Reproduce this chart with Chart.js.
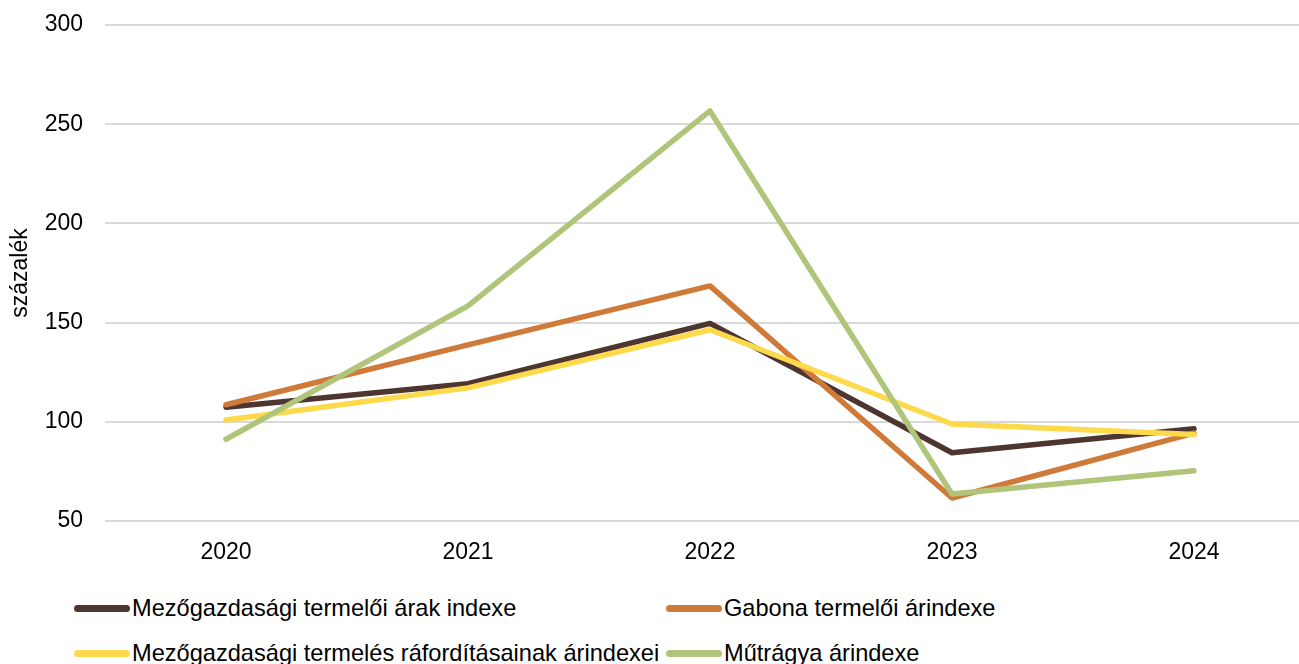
<!DOCTYPE html>
<html>
<head>
<meta charset="utf-8">
<script src="https://cdn.jsdelivr.net/npm/chart.js@4/dist/chart.umd.min.js"></script>
<style>
  body { margin: 0; background: #fff; overflow: hidden; width: 1299px; height: 664px; position: relative; }
  #wrap { position: absolute; left: 0; top: 0; width: 1315px; height: 570px; }
  .legend { position: absolute; left: 0; top: 0; font-family: "Liberation Sans", Arial, sans-serif; font-size: 23.6px; color: #000; white-space: nowrap; }
  .item { position: absolute; display: flex; align-items: center; height: 30px; }
  .swatch { width: 56px; height: 7px; border-radius: 3.5px; margin-right: 2px; }
</style>
</head>
<body>
<div id="wrap"><canvas id="chart"></canvas></div>
<div class="legend" id="legend"></div>
<script>
const years = ["2020", "2021", "2022", "2023", "2024"];

const producerPrices = [107.3, 119.2, 149.6, 84.4, 96.5];
const grainPrices = [108.6, 138.8, 168.5, 61.6, 94.3];
const inputPrices = [100.9, 117.1, 146.4, 98.9, 93.6];
const fertiliserPrices = [91.2, 158.4, 256.7, 63.6, 75.3];

const seriesNames = [
    "Mezőgazdasági termelői árak indexe",
    "Gabona termelői árindexe",
    "Mezőgazdasági termelés ráfordításainak árindexei",
    "Műtrágya árindexe"
];
const seriesColors = ["#4d3630", "#cf7a38", "#fdda4c", "#b0c57a"];

const yTicks = [50, 100, 150, 200, 250, 300];

const font = "'Liberation Sans', Arial, sans-serif";

const allValues = [producerPrices, grainPrices, inputPrices, fertiliserPrices];

// Excel draws the later series on top, Chart.js draws lower "order" on top
const datasets = allValues.map((vals, i) => ({
    label: seriesNames[i],
    data: vals,
    borderColor: seriesColors[i],
    backgroundColor: seriesColors[i],
    borderWidth: 5.5,
    pointRadius: 0,
    tension: 0,
    borderCapStyle: "round",
    borderJoinStyle: "round",
    order: allValues.length - i
}));

new Chart(document.getElementById("chart"), {
    type: "line",
    data: { labels: years, datasets: datasets },
    options: {
        responsive: true,
        maintainAspectRatio: false,
        animation: false,
        layout: { padding: { top: 25, right: 0, bottom: 0, left: 0 } },
        plugins: {
            legend: { display: false },
            tooltip: { enabled: false }
        },
        scales: {
            x: {
                offset: true,
                grid: { display: false },
                border: { display: false },
                ticks: { color: "#000", font: { family: font, size: 23 }, padding: 10 },
                afterFit: axis => { axis.height = 49; }
            },
            y: {
                min: yTicks[0],
                max: yTicks[yTicks.length - 1],
                afterBuildTicks: axis => { axis.ticks = yTicks.map(v => ({ value: v })); },
                grid: { color: "#d9d9d9", lineWidth: 2, drawTicks: false },
                border: { display: false },
                ticks: { color: "#000", font: { family: font, size: 23 }, padding: 22 },
                title: {
                    display: true,
                    text: "százalék",
                    color: "#000",
                    font: { family: font, size: 23 },
                    padding: { top: 7, bottom: 6 }
                },
                afterFit: axis => {
                    axis.width = 105;
                    axis.paddingTop = 0;
                    axis.paddingBottom = 0;
                }
            }
        }
    }
});

// legend laid out in two columns like the original
const legend = document.getElementById("legend");
const legendPos = [[74, 593], [666, 593], [74, 638], [666, 638]];
seriesNames.forEach((name, i) => {
    const item = document.createElement("div");
    item.className = "item";
    item.style.left = legendPos[i][0] + "px";
    item.style.top = legendPos[i][1] + "px";
    item.innerHTML = '<span class="swatch" style="background:' + seriesColors[i] + '"></span>' + name;
    legend.appendChild(item);
});
</script>
</body>
</html>
